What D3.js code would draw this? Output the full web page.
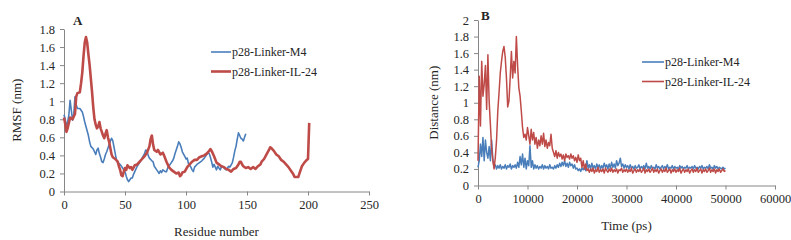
<!DOCTYPE html>
<html>
<head>
<meta charset="utf-8">
<script src="https://cdnjs.cloudflare.com/ajax/libs/d3/7.8.5/d3.min.js"></script>
<style>
  body { margin: 0; background: #fff; }
  svg text { font-family: "Liberation Serif", "Times New Roman", serif; fill: #262626; }
  .axis path, .axis line { stroke: #868686; stroke-width: 1; }
  .axis text { font-size: 12.5px; }
</style>
</head>
<body>
<div id="chart"></div>
<script>
// ---- data ----
var seriesNames = ["p28-Linker-M4", "p28-Linker-IL-24"];

// panel A: RMSF per residue, [residue, nm]
var rmsfM4 = [[0,0.85],[1,0.8],[2,0.72],[3,0.77],[4,0.85],[5,1.01],[6,0.9],[7,0.79],[8,0.85],[9,1.05],[10,0.96],[11,0.92],[13,0.92],[15,0.88],[16,0.83],[17,0.77],[18,0.72],[19,0.67],[20,0.62],[21,0.55],[22,0.5],[24,0.47],[25,0.44],[26,0.41],[27,0.46],[28,0.48],[29,0.42],[30,0.38],[31,0.33],[32,0.32],[33,0.36],[34,0.41],[35,0.44],[36,0.48],[37,0.52],[38,0.56],[39,0.59],[40,0.56],[41,0.49],[42,0.42],[43,0.35],[44,0.32],[46,0.3],[48,0.26],[50,0.22],[51,0.17],[52,0.13],[53,0.11],[54,0.13],[55,0.15],[56,0.15],[57,0.19],[58,0.22],[60,0.28],[62,0.32],[64,0.37],[66,0.42],[67,0.46],[68,0.45],[69,0.4],[70,0.37],[72,0.34],[73,0.33],[74,0.28],[76,0.24],[77,0.22],[78,0.2],[79,0.23],[80,0.21],[81,0.24],[83,0.22],[84,0.22],[85,0.26],[87,0.3],[89,0.34],[90,0.37],[91,0.42],[93,0.5],[94,0.55],[95,0.53],[96,0.49],[97,0.44],[99,0.39],[100,0.36],[101,0.37],[102,0.31],[104,0.27],[105,0.24],[106,0.22],[107,0.27],[109,0.3],[111,0.32],[113,0.34],[115,0.37],[117,0.41],[118,0.43],[119,0.42],[120,0.38],[121,0.33],[122,0.27],[123,0.3],[124,0.27],[125,0.24],[126,0.28],[128,0.24],[129,0.27],[130,0.28],[132,0.25],[133,0.24],[134,0.26],[135,0.28],[136,0.27],[138,0.32],[139,0.38],[140,0.45],[141,0.5],[142,0.58],[143,0.65],[144,0.62],[145,0.59],[146,0.58],[147,0.56],[148,0.6],[149,0.64]];

var rmsfIL24 = [[0,0.82],[1,0.75],[2,0.66],[3,0.7],[5,0.82],[7,0.8],[9,0.86],[10,1.05],[11,1.09],[13,1.1],[14,1.2],[15,1.32],[16,1.5],[17,1.65],[18,1.71],[19,1.65],[20,1.52],[21,1.4],[22,1.25],[23,1.1],[24,0.93],[25,0.8],[26,0.74],[27,0.7],[28,0.72],[29,0.77],[30,0.7],[31,0.66],[32,0.62],[33,0.59],[34,0.64],[35,0.68],[36,0.6],[37,0.55],[38,0.48],[39,0.41],[40,0.38],[42,0.36],[44,0.33],[45,0.28],[46,0.24],[47,0.18],[48,0.17],[49,0.22],[50,0.26],[51,0.24],[52,0.29],[54,0.26],[55,0.27],[56,0.24],[58,0.29],[60,0.3],[62,0.33],[64,0.36],[66,0.39],[68,0.43],[70,0.5],[71,0.58],[72,0.62],[73,0.52],[74,0.46],[76,0.44],[77,0.46],[79,0.41],[81,0.43],[82,0.4],[84,0.33],[86,0.27],[88,0.24],[90,0.22],[92,0.2],[94,0.21],[95,0.17],[96,0.18],[97,0.21],[99,0.22],[101,0.27],[103,0.3],[105,0.33],[107,0.35],[109,0.35],[111,0.38],[113,0.39],[115,0.4],[117,0.42],[119,0.45],[120,0.47],[121,0.45],[123,0.39],[125,0.32],[127,0.3],[129,0.28],[131,0.27],[133,0.25],[135,0.24],[137,0.22],[139,0.25],[141,0.26],[143,0.3],[144,0.33],[145,0.33],[146,0.3],[147,0.28],[149,0.26],[151,0.27],[153,0.25],[155,0.27],[157,0.25],[159,0.28],[161,0.3],[162,0.33],[164,0.36],[166,0.41],[168,0.46],[169,0.49],[170,0.48],[172,0.45],[174,0.41],[176,0.39],[178,0.35],[180,0.33],[182,0.3],[184,0.27],[186,0.23],[188,0.19],[189,0.16],[190,0.16],[192,0.16],[193,0.2],[195,0.28],[197,0.32],[199,0.35],[200,0.36],[201,0.76]];

// panel B: distance sampled every distStep ps, from 0 to 50000
var distStep = 250;
var distM4 = [
  0.22,0.3,0.5,0.35,0.58,0.3,0.55,0.4,0.33,0.47,
  0.3,0.55,0.32,0.22,0.25,0.2,0.24,0.21,0.25,0.2,
  0.23,0.21,0.25,0.2,0.24,0.22,0.26,0.2,0.24,0.22,
  0.25,0.21,0.28,0.22,0.35,0.25,0.38,0.22,0.33,0.2,
  0.3,0.24,0.48,0.22,0.3,0.2,0.25,0.21,0.24,0.2,
  0.23,0.21,0.25,0.2,0.24,0.21,0.23,0.2,0.25,0.21,
  0.22,0.2,0.24,0.21,0.25,0.22,0.27,0.23,0.28,0.24,
  0.3,0.23,0.27,0.22,0.28,0.24,0.26,0.21,0.25,0.2,
  0.21,0.18,0.2,0.17,0.21,0.19,0.22,0.18,0.3,0.21,
  0.25,0.2,0.27,0.21,0.24,0.2,0.26,0.22,0.25,0.2,
  0.24,0.21,0.27,0.22,0.25,0.2,0.26,0.21,0.28,0.22,
  0.26,0.21,0.3,0.24,0.27,0.33,0.23,0.26,0.21,0.25,
  0.22,0.24,0.2,0.25,0.21,0.23,0.2,0.24,0.21,0.22,
  0.25,0.2,0.23,0.21,0.24,0.2,0.27,0.21,0.23,0.2,
  0.24,0.21,0.22,0.2,0.25,0.21,0.23,0.2,0.22,0.24,
  0.2,0.23,0.21,0.25,0.2,0.22,0.21,0.24,0.2,0.23,
  0.21,0.22,0.2,0.24,0.21,0.23,0.2,0.22,0.21,0.24,
  0.2,0.22,0.21,0.23,0.2,0.24,0.21,0.22,0.2,0.23,
  0.21,0.24,0.2,0.22,0.21,0.23,0.2,0.25,0.21,0.22,
  0.2,0.24,0.21,0.23,0.2,0.22,0.21,0.2,0.22,0.2,0.21];

var distIL24 = [
  0.3,1.32,0.72,1.5,1.08,1.22,1.45,0.92,1.58,1.02,
  0.74,0.45,0.3,0.2,0.34,0.55,0.9,1.12,1.36,1.5,
  1.62,1.68,1.55,1.3,0.95,1.02,1.3,1.62,1.3,1.5,
  1.36,1.8,1.45,1.18,1.08,0.9,0.7,0.58,0.62,0.55,
  0.7,0.6,0.5,0.68,0.55,0.64,0.5,0.58,0.45,0.55,
  0.48,0.6,0.5,0.63,0.47,0.55,0.45,0.52,0.48,0.62,
  0.45,0.4,0.35,0.42,0.33,0.4,0.35,0.38,0.32,0.37,
  0.3,0.38,0.34,0.36,0.32,0.38,0.33,0.36,0.3,0.34,
  0.28,0.37,0.3,0.33,0.22,0.3,0.2,0.26,0.18,0.2,
  0.16,0.2,0.17,0.21,0.15,0.19,0.17,0.22,0.16,0.19,
  0.17,0.2,0.15,0.21,0.18,0.16,0.2,0.17,0.21,0.16,
  0.19,0.17,0.2,0.15,0.19,0.18,0.21,0.16,0.19,0.17,
  0.2,0.16,0.19,0.17,0.21,0.15,0.18,0.2,0.16,0.19,
  0.17,0.2,0.16,0.18,0.21,0.15,0.19,0.17,0.2,0.16,
  0.18,0.21,0.16,0.19,0.17,0.2,0.15,0.18,0.2,0.16,
  0.19,0.17,0.21,0.16,0.18,0.2,0.15,0.19,0.17,0.2,
  0.16,0.19,0.17,0.21,0.15,0.18,0.2,0.16,0.19,0.17,
  0.2,0.15,0.18,0.2,0.16,0.19,0.17,0.21,0.16,0.18,
  0.2,0.15,0.19,0.17,0.2,0.16,0.18,0.21,0.16,0.19,
  0.17,0.2,0.15,0.19,0.17,0.2,0.16,0.18,0.2,0.17,0.18];

var rmsfXTicks = [0, 50, 100, 150, 200, 250];
var rmsfYTicks = [0, 0.2, 0.4, 0.6, 0.8, 1, 1.2, 1.4, 1.6, 1.8];
var distXTicks = [0, 10000, 20000, 30000, 40000, 50000, 60000];
var distYTicks = [0, 0.2, 0.4, 0.6, 0.8, 1, 1.2, 1.4, 1.6, 1.8, 2];

var colors = ["#4a7ebb", "#be4b48"];

var svg = d3.select("#chart").append("svg")
    .attr("width", 791)
    .attr("height", 240);

// turns the evenly sampled distance values into [time, value] pairs
function withTime(values) {
    return values.map(function(v, i) { return [i * distStep, v]; });
}

/**
 * Draws one panel: axes, both series, legend and titles.
 */
function drawPanel(p) {
    var x = d3.scaleLinear().domain(p.xDomain).range([p.left, p.right]);
    var y = d3.scaleLinear().domain(p.yDomain).range([p.bottom, p.top]);

    var g = svg.append("g");

    g.append("g")
        .attr("class", "axis")
        .attr("transform", "translate(0," + p.bottom + ")")
        .call(d3.axisBottom(x).tickValues(p.xTicks).tickSize(4).tickSizeOuter(0)
            .tickFormat(function(d) { return String(d); }))
        .selectAll("text").attr("dy", "0.85em");

    g.append("g")
        .attr("class", "axis")
        .attr("transform", "translate(" + p.left + ",0)")
        .call(d3.axisLeft(y).tickValues(p.yTicks).tickSize(4).tickSizeOuter(0)
            .tickFormat(function(d) { return String(+d.toFixed(1)); }))
        .selectAll("text").attr("dx", "-2px");

    var line = d3.line()
        .x(function(d) { return x(d[0]); })
        .y(function(d) { return y(d[1]); });

    //M4 first, IL-24 on top of it
    p.series.forEach(function(s, i) {
        g.append("path")
            .datum(s)
            .attr("fill", "none")
            .attr("stroke", colors[i])
            .attr("stroke-width", p.widths[i])
            .attr("stroke-linejoin", "round")
            .attr("d", line);
    });

    //legend
    seriesNames.forEach(function(name, i) {
        var ly = p.legendY + i * 19.5;
        g.append("line")
            .attr("x1", p.legendX).attr("x2", p.legendX + p.legendLen)
            .attr("y1", ly).attr("y2", ly)
            .attr("stroke", colors[i])
            .attr("stroke-width", p.legendWidths[i]);
        g.append("text")
            .attr("x", p.legendX + p.legendLen + 1)
            .attr("y", ly + 4)
            .style("font-size", "12px")
            .text(name);
    });

    //panel letter
    g.append("text")
        .attr("x", p.letterX).attr("y", p.letterY)
        .style("font-size", "13px")
        .style("font-weight", "bold")
        .text(p.letter);

    //axis titles
    g.append("text")
        .attr("x", (p.left + p.right) / 2)
        .attr("y", p.xTitleY)
        .attr("text-anchor", "middle")
        .style("font-size", "13px")
        .text(p.xTitle);

    g.append("text")
        .attr("transform", "translate(" + p.yTitleX + "," + ((p.top + p.bottom) / 2) + ") rotate(-90)")
        .attr("text-anchor", "middle")
        .style("font-size", "13px")
        .text(p.yTitle);
}

drawPanel({
    letter: "A", letterX: 73, letterY: 25,
    left: 64, right: 369, top: 29, bottom: 191.5,
    xDomain: [0, 250], yDomain: [0, 1.8],
    xTicks: rmsfXTicks, yTicks: rmsfYTicks,
    series: [rmsfM4, rmsfIL24], widths: [1.6, 2.6], legendWidths: [1.6, 2.6],
    legendX: 211, legendLen: 20, legendY: 52,
    xTitle: "Residue number", xTitleY: 236,
    yTitle: "RMSF (nm)", yTitleX: 21
});

drawPanel({
    letter: "B", letterX: 481, letterY: 20,
    left: 478, right: 775, top: 20, bottom: 185.5,
    xDomain: [0, 60000], yDomain: [0, 2],
    xTicks: distXTicks, yTicks: distYTicks,
    series: [withTime(distM4), withTime(distIL24)], widths: [1.5, 1.5], legendWidths: [1.6, 1.6],
    legendX: 642, legendLen: 22, legendY: 62,
    xTitle: "Time (ps)", xTitleY: 230,
    yTitle: "Distance (nm)", yTitleX: 438
});
</script>
</body>
</html>
